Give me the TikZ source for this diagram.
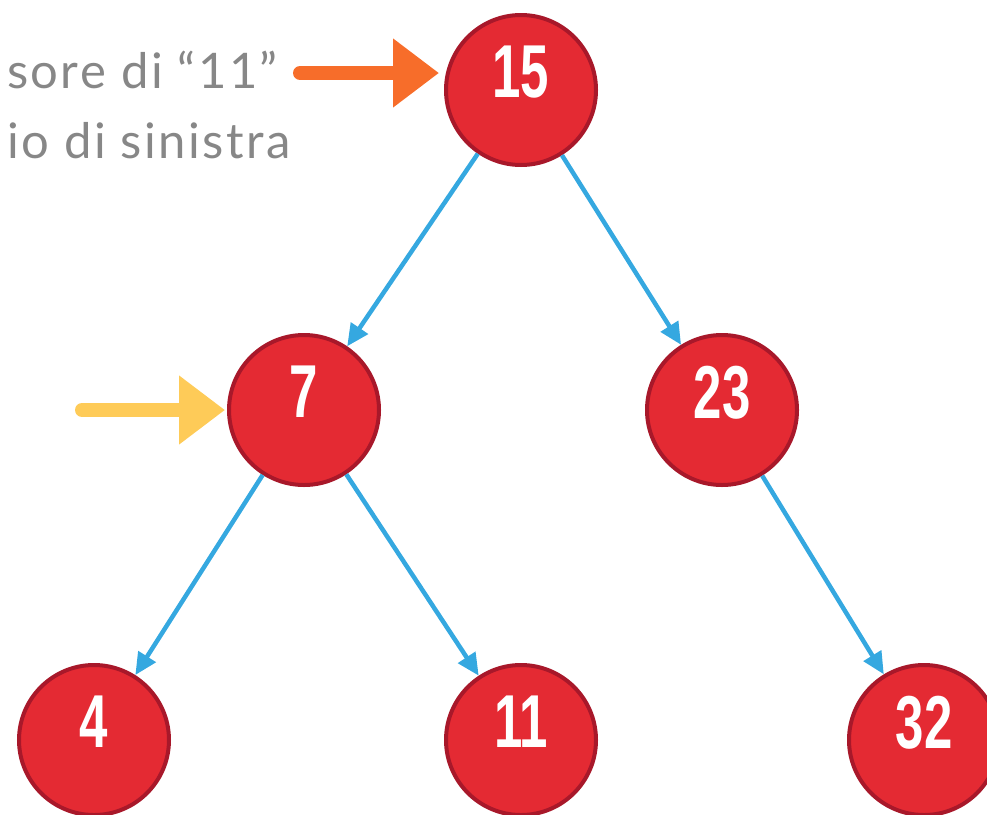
\documentclass[tikz,border=0pt]{standalone}
\usepackage{fontspec}
\setmainfont{Lato}
\newfontfamily\numfont[FakeStretch=0.68]{Liberation Sans}
\usetikzlibrary{arrows.meta}

\definecolor{keyred}{HTML}{E42A33}
\definecolor{keyrim}{HTML}{A8182A}
\definecolor{linkblue}{HTML}{35A8E0}
\definecolor{markorange}{HTML}{F76D2A}
\definecolor{markyellow}{HTML}{FECB58}
\definecolor{notegray}{HTML}{878787}

\begin{document}
\begin{tikzpicture}[x=1pt,y=-1pt,
	key/.style={circle, draw=keyrim, fill=keyred, line width=4pt, minimum size=150pt, inner sep=0pt,
		text=white, font=\numfont\bfseries\fontsize{75}{75}\selectfont, text depth=36pt},
	link/.style={draw=linkblue, line width=4.5pt, -{Triangle[length=22pt,width=20pt]}},
	pointer/.style={line width=14pt, line cap=round, -{Triangle[length=46pt,width=66pt]}},
	note/.style={text=notegray, font=\fontsize{49}{49}\selectfont\addfontfeature{LetterSpace=5}, inner sep=0pt}]
				\useasboundingbox (0,0) rectangle (987,814);
				\clip (0,0) rectangle (987,814);
				
				% the keys
				\node[key] (n15) at (521,90) {15};
				\node[key] (n7) at (304,410) {7};
				\node[key] (n23) at (722,410) {23};
				\node[key] (n4) at (94,740) {4};
				\node[key] (n11) at (521,740) {11};
				\node[key] (n32) at (924,740) {32};
				
				\draw[link] (n15) -- (n7);
				\draw[link] (n15) -- (n23);
				\draw[link] (n7) -- (n4);
				\draw[link] (n7) -- (n11);
				\draw[link] (n23) -- (n32);
				
				% the note
				\node[note, anchor=base east] (line1) at (278,88) {sore di “11”};
				\node[note, anchor=base east] (line2) at (291,158) {io di sinistra};
				
				% pointers
				\coordinate (otail) at (300,73);
				\coordinate (ytail) at (82,410);
				\draw[pointer, color=markorange, shorten >=5pt] (otail) -- (otail -| n15.west);
				\draw[pointer, color=markyellow, shorten >=2pt] (ytail) -- (n7.west);
				\end{tikzpicture}
\end{document}
